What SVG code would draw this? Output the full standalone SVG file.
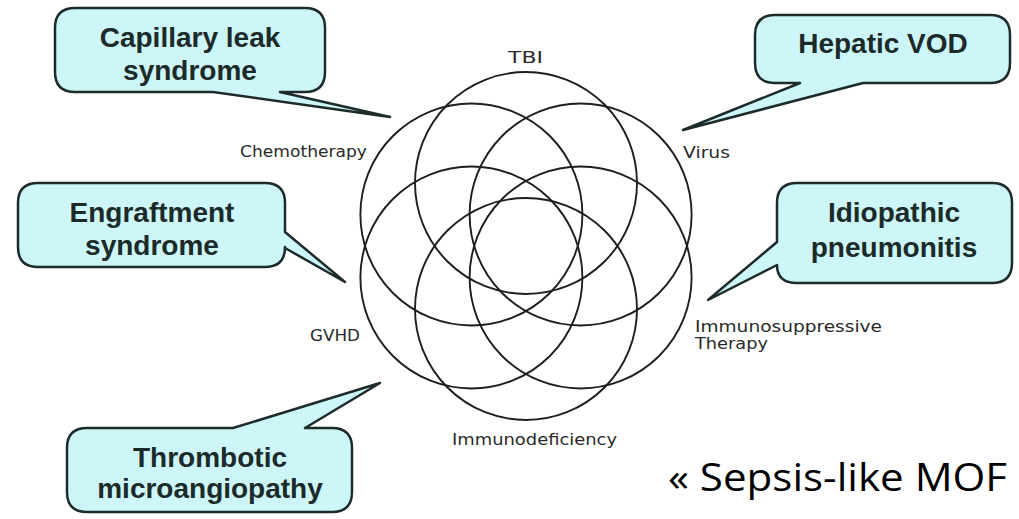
<svg xmlns="http://www.w3.org/2000/svg" width="1019" height="519" viewBox="0 0 1019 519">
  <style>
    .ring { fill: none; stroke: #1e1e1e; stroke-width: 1.9; }
    .lbl { font-family: "DejaVu Sans", "Liberation Sans", sans-serif; font-size: 15px; fill: #2a2a2a; }
    .bubble { fill: #cdf6f8; stroke: #1e2b2b; stroke-width: 2.5; stroke-linejoin: round; }
    .btxt { font-family: "Liberation Sans", Arial, sans-serif; font-weight: bold; font-size: 28px; fill: #1c2a2a; text-anchor: middle; }
    .big { font-family: "Open Sans", "Noto Sans", sans-serif; font-size: 38px; fill: #000; }
  </style>
  <rect width="1019" height="519" fill="#fff"/>

  <g id="flower">
    <circle class="ring" cx="526" cy="183" r="111"/>
    <circle class="ring" cx="526" cy="309" r="111"/>
    <circle class="ring" cx="471.4" cy="214.5" r="111"/>
    <circle class="ring" cx="580.6" cy="214.5" r="111"/>
    <circle class="ring" cx="471.4" cy="277.5" r="111"/>
    <circle class="ring" cx="580.6" cy="277.5" r="111"/>
  </g>

  <g id="labels">
    <text class="lbl" x="508" y="63" textLength="35" lengthAdjust="spacingAndGlyphs">TBI</text>
    <text class="lbl" x="240" y="157" textLength="127" lengthAdjust="spacingAndGlyphs">Chemotherapy</text>
    <text class="lbl" x="683" y="158" textLength="47" lengthAdjust="spacingAndGlyphs">Virus</text>
    <text class="lbl" x="310" y="341" textLength="50" lengthAdjust="spacingAndGlyphs">GVHD</text>
    <text class="lbl" x="695" y="332" textLength="187" lengthAdjust="spacingAndGlyphs">Immunosuppressive</text>
    <text class="lbl" x="695" y="349" textLength="73" lengthAdjust="spacingAndGlyphs">Therapy</text>
    <text class="lbl" x="452" y="445" textLength="165" lengthAdjust="spacingAndGlyphs">Immunodeficiency</text>
  </g>

  <g id="connectors"></g>

  <g id="capillary-leak">
    <path class="bubble" d="M75,8 H305 Q325,8 325,28 V72 Q325,92 305,92 H280 L390,117 L213,92 H75 Q55,92 55,72 V28 Q55,8 75,8 Z"/>
    <text class="btxt" x="190" y="47">Capillary leak</text>
    <text class="btxt" x="190" y="80">syndrome</text>
  </g>

  <g id="hepatic-vod">
    <path class="bubble" d="M775,15 H990 Q1010,15 1010,35 V63 Q1010,83 990,83 H863 L683,130 L800,83 H775 Q755,83 755,63 V35 Q755,15 775,15 Z"/>
    <text class="btxt" x="883" y="53">Hepatic VOD</text>
  </g>

  <g id="engraftment">
    <path class="bubble" d="M38,183 H265 Q285,183 285,203 V232 L345,282 L285,248 V247 Q285,267 265,267 H38 Q18,267 18,247 V203 Q18,183 38,183 Z"/>
    <text class="btxt" x="152" y="222">Engraftment</text>
    <text class="btxt" x="152" y="255">syndrome</text>
  </g>

  <g id="idiopathic-pneumonitis">
    <path class="bubble" d="M797,183 H992 Q1012,183 1012,203 V263 Q1012,283 992,283 H797 Q777,283 777,265 L708,300 L777,242 V203 Q777,183 797,183 Z"/>
    <text class="btxt" x="894" y="222">Idiopathic</text>
    <text class="btxt" x="894" y="257">pneumonitis</text>
  </g>

  <g id="thrombotic">
    <path class="bubble" d="M87,428 H233 L380,383 L305,428 H332 Q352,428 352,448 V492 Q352,512 332,512 H87 Q67,512 67,492 V448 Q67,428 87,428 Z"/>
    <text class="btxt" x="210" y="467">Thrombotic</text>
    <text class="btxt" x="210" y="498">microangiopathy</text>
  </g>

  <g id="sepsis-note">
    <text class="big" x="668" y="491" textLength="339" lengthAdjust="spacingAndGlyphs">« Sepsis-like MOF</text>
  </g>
</svg>
